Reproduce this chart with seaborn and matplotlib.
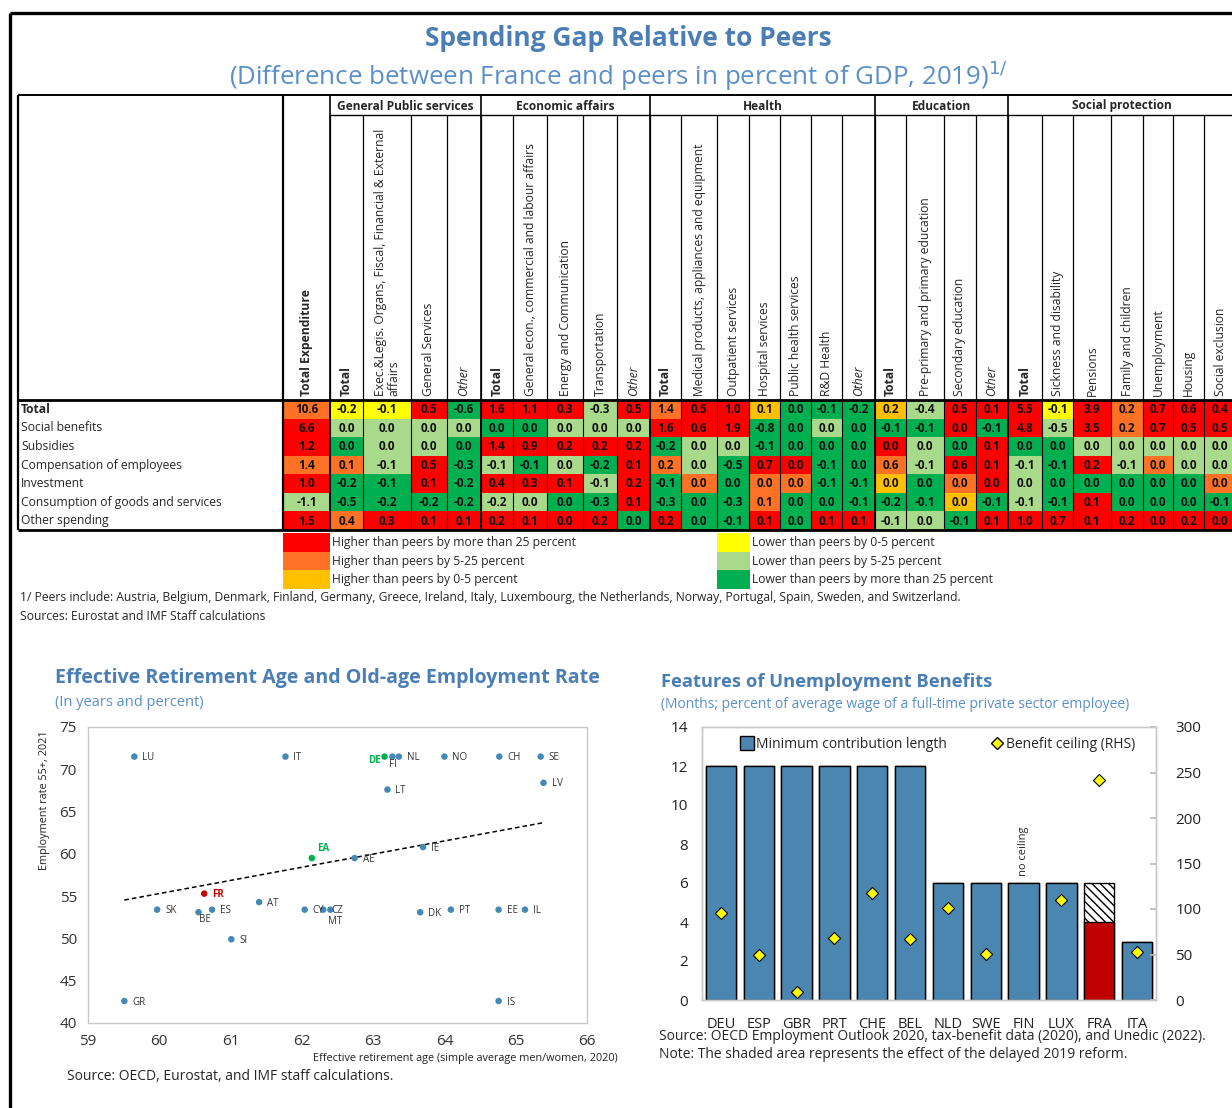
import matplotlib
matplotlib.use("Agg")
import matplotlib.pyplot as plt
import numpy as np
import pandas as pd
import seaborn as sns
from matplotlib.colors import ListedColormap
from matplotlib.lines import Line2D
from matplotlib.patches import Rectangle

# ---------------- data: spending gap table ----------------
row_labels = ["Total", "Social benefits", "Subsidies", "Compensation of employees",
              "Investment", "Consumption of goods and services", "Other spending"]
group_names = ["General Public services", "Economic affairs", "Health", "Education",
               "Social protection"]
group_sizes = [4, 5, 7, 4, 7]
col_labels = ["Total Expenditure",
              "Total", "Exec.&Legis. Organs, Fiscal, Financial & External\naffairs",
              "General Services", "Other",
              "Total", "General econ., commercial and labour affairs",
              "Energy and Communication", "Transportation", "Other",
              "Total", "Medical products, appliances and equipment", "Outpatient services",
              "Hospital services", "Public health services", "R&D Health", "Other",
              "Total", "Pre-primary and primary education", "Secondary education", "Other",
              "Total", "Sickness and disability", "Pensions", "Family and children",
              "Unemployment", "Housing", "Social exclusion"]

gap_total = [10.6, -0.2, -0.1, 0.5, -0.6, 1.6, 1.1, 0.3, -0.3, 0.5, 1.4, 0.5, 1.0, 0.1,
             0.0, -0.1, -0.2, 0.2, -0.4, 0.5, 0.1, 5.5, -0.1, 3.9, 0.2, 0.7, 0.6, 0.4]
gap_social = [6.6, 0.0, 0.0, 0.0, 0.0, 0.0, 0.0, 0.0, 0.0, 0.0, 1.6, 0.6, 1.9, -0.8,
              0.0, 0.0, 0.0, -0.1, -0.1, 0.0, -0.1, 4.8, -0.5, 3.5, 0.2, 0.7, 0.5, 0.5]
gap_subsidies = [1.2, 0.0, 0.0, 0.0, 0.0, 1.4, 0.9, 0.2, 0.2, 0.2, -0.2, 0.0, 0.0, -0.1,
                 0.0, 0.0, 0.0, 0.0, 0.0, 0.0, 0.1, 0.0, 0.0, 0.0, 0.0, 0.0, 0.0, 0.0]
gap_compens = [1.4, 0.1, -0.1, 0.5, -0.3, -0.1, -0.1, 0.0, -0.2, 0.1, 0.2, 0.0, -0.5, 0.7,
               0.0, -0.1, 0.0, 0.6, -0.1, 0.6, 0.1, -0.1, -0.1, 0.2, -0.1, 0.0, 0.0, 0.0]
gap_invest = [1.0, -0.2, -0.1, 0.1, -0.2, 0.4, 0.3, 0.1, -0.1, 0.2, -0.1, 0.0, 0.0, 0.0,
              0.0, -0.1, -0.1, 0.0, 0.0, 0.0, 0.0, 0.0, 0.0, 0.0, 0.0, 0.0, 0.0, 0.0]
gap_consum = [-1.1, -0.5, -0.2, -0.2, -0.2, -0.2, 0.0, 0.0, -0.3, 0.1, -0.3, 0.0, -0.3, 0.1,
              0.0, 0.0, -0.1, -0.2, -0.1, 0.0, -0.1, -0.1, -0.1, 0.1, 0.0, 0.0, 0.0, -0.1]
gap_other = [1.5, 0.4, 0.3, 0.1, 0.1, 0.2, 0.1, 0.0, 0.2, 0.0, 0.2, 0.0, -0.1, 0.1,
             0.0, 0.1, 0.1, -0.1, 0.0, -0.1, 0.1, 1.0, 0.7, 0.1, 0.2, 0.0, 0.2, 0.0]

# relative gap class per cell: R >25% higher, O 5-25% higher, A 0-5% higher,
# Y 0-5% lower, L 5-25% lower, G >25% lower
lvl_total = "OYYRGRRRLR" "ORRAGGG" "ALRR" "RYRORRR"
lvl_social = "RLLLLGGLLL" "RRRGGLG" "GGRG" "RLRORRR"
lvl_subsidies = "RGLLGRRRRR" "GLLGGGG" "RLGR" "GGLLLLL"
lvl_compens = "OOLRGLGLGR" "OLGRRGG" "OLRR" "LGRLOLL"
lvl_invest = "RGGRGRRRLR" "GOGOOGG" "AGOR" "LGGGGGO"
lvl_consum = "LGGGGLLGGR" "GGGOGGG" "GGAG" "LGRGGGG"
lvl_other = "RORRRRRRRG" "RGGRGRR" "LLGR" "RRRRRRR"

level_codes = ["R", "O", "A", "Y", "L", "G"]
level_names = ["Higher than peers by more than 25 percent", "Higher than peers by 5-25 percent",
               "Higher than peers by 0-5 percent", "Lower than peers by 0-5 percent",
               "Lower than peers by 5-25 percent", "Lower than peers by more than 25 percent"]

# ---------------- data: retirement scatter ----------------
sc_country = ["LU", "IT", "DE", "FI", "NL", "NO", "CH", "SE", "LV", "LT", "IE", "AE", "EA",
              "FR", "AT", "SK", "BE", "ES", "CY", "CZ", "MT", "DK", "PT", "EE", "IL", "SI",
              "GR", "IS"]
sc_age = [59.65, 61.77, 63.16, 63.27, 63.36, 64.0, 64.77, 65.35, 65.39, 63.2, 63.7, 62.74,
          62.14, 60.63, 61.4, 59.97, 60.55, 60.74, 62.04, 62.3, 62.4, 63.66, 64.09, 64.76,
          65.13, 61.01, 59.51, 64.76]
sc_emp = [71.5, 71.5, 71.5, 71.5, 71.5, 71.5, 71.5, 71.5, 68.4, 67.6, 60.8, 59.5, 59.5,
          55.3, 54.3, 53.4, 53.1, 53.4, 53.4, 53.4, 53.4, 53.1, 53.4, 53.4, 53.4, 49.9,
          42.6, 42.6]

# ---------------- data: unemployment benefits ----------------
ub_country = ["DEU", "ESP", "GBR", "PRT", "CHE", "BEL", "NLD", "SWE", "FIN", "LUX", "FRA", "ITA"]
ub_months = [12, 12, 12, 12, 12, 12, 6, 6, 6, 6, 4, 3]
ub_reform = [0, 0, 0, 0, 0, 0, 0, 0, 0, 0, 2, 0]
ub_ceiling = [96, 49, 9, 68, 118, 67, 101, 51, np.nan, 110, 242, 53]

# ---------------- styling ----------------
W, H = 1232, 1108
level_colors = ["#FF0000", "#FF7124", "#FFC000", "#FFFF00", "#A9D98B", "#00B050"]
title_blue = "#4A7EB4"
sub_blue = "#5B8FC8"
pt_blue = "#4389B8"
col_w = [47, 33, 48, 36, 34, 32, 34, 36, 34, 33, 31, 36, 32, 31, 31, 31, 33,
         31, 38, 32, 32, 34, 31, 38, 32, 30, 31, 32]
tab_x0, tab_top, tab_bot = 283, 400, 530

sns.set_theme(style="white")
plt.rcParams["font.family"] = ["Open Sans", "DejaVu Sans"]

fig = plt.figure(figsize=(W / 100, H / 100), dpi=100)


def rect(x0, y0, x1, y1):
    return [x0 / W, 1 - y1 / H, (x1 - x0) / W, (y1 - y0) / H]


# ---- heatmap cells ----
gap_rows = [gap_total, gap_social, gap_subsidies, gap_compens, gap_invest, gap_consum, gap_other]
lvl_rows = [lvl_total, lvl_social, lvl_subsidies, lvl_compens, lvl_invest, lvl_consum, lvl_other]
values = np.array(gap_rows)
codes = np.array([[level_codes.index(c) for c in r] for r in lvl_rows])
edges = np.concatenate([[0], np.cumsum(col_w)])

ax_h = fig.add_axes(rect(tab_x0, tab_top, tab_x0 + edges[-1], tab_bot))
sns.heatmap(np.repeat(codes, col_w, axis=1), cmap=ListedColormap(level_colors),
            vmin=-0.5, vmax=5.5, cbar=False, xticklabels=False, yticklabels=False, ax=ax_h)
for i in range(values.shape[0]):
    for j in range(values.shape[1]):
        ax_h.text((edges[j] + edges[j + 1]) / 2, i + 0.52, f"{values[i, j]:.1f}",
                  ha="center", va="center", fontsize=8.5, fontweight="bold", color="#111111")
grp_idx = np.cumsum([1] + group_sizes)
ax_h.vlines(edges[1:-1], 0, len(row_labels), color="black", lw=0.8)
ax_h.vlines(edges[grp_idx[:-1]], 0, len(row_labels), color="black", lw=1.4)

# ---- overlay in pixel coordinates ----
ov = fig.add_axes([0, 0, 1, 1], zorder=5)
ov.set_xlim(0, W)
ov.set_ylim(H, 0)
ov.axis("off")

# page frame
ov.plot([10, W], [13, 13], color="black", lw=2.4, solid_capstyle="butt")
ov.plot([10, 10], [13, H], color="black", lw=2.4, solid_capstyle="butt")

ov.text(628, 38, "Spending Gap Relative to Peers", ha="center", va="center",
        fontsize=19, fontweight="bold", color=title_blue)
ov.text(618, 76, "(Difference between France and peers in percent of GDP, 2019)$^{1/}$",
        ha="center", va="center", fontsize=18.6, color=sub_blue)

# table grid
col_x = tab_x0 + edges
ov.hlines([95], 18, W, color="black", lw=1.4)
ov.hlines([tab_top, tab_bot], 18, W, color="black", lw=2.0)
ov.hlines([115], col_x[1], W, color="black", lw=1.0)
ov.vlines([18, tab_x0], 95, tab_bot, color="black", lw=1.6)
ov.vlines(col_x[grp_idx[:-1]], 95, tab_top, color="black", lw=1.2)
ov.vlines(col_x[1:-1], 115, tab_top, color="black", lw=0.9)

for k, name in enumerate(group_names):
    xc = (col_x[grp_idx[k]] + col_x[grp_idx[k + 1]]) / 2
    ov.text(xc, 106, name, ha="center", va="center", fontsize=8.6, fontweight="bold")

for j, lab in enumerate(col_labels):
    xc = (col_x[j] + col_x[j + 1]) / 2
    weight = "bold" if lab.startswith("Total") else "normal"
    style = "italic" if lab == "Other" else "normal"
    ov.text(xc, 396, lab, rotation=90, ha="center", va="bottom", multialignment="left",
            fontsize=8.7, fontweight=weight, fontstyle=style, linespacing=1.0)

row_h = (tab_bot - tab_top) / len(row_labels)
for i, lab in enumerate(row_labels):
    ov.text(21, tab_top + (i + 0.5) * row_h, lab, ha="left", va="center", fontsize=8.7,
            fontweight="bold" if i == 0 else "normal")

# legend of the table
for k, (code, name) in enumerate(zip(level_codes, level_names)):
    col, r = (0, k) if k < 3 else (1, k - 3)
    x0, x1 = (283, 330) if col == 0 else (717, 750)
    y0 = 533 + r * 18.5
    ov.add_patch(Rectangle((x0, y0), x1 - x0, 18.5, color=level_colors[k], lw=0))
    ov.text(x1 + 2, y0 + 9.5, name, ha="left", va="center", fontsize=8.7)

ov.text(20, 598, "1/ Peers include: Austria, Belgium, Denmark, Finland, Germany, Greece, Ireland, "
        "Italy, Luxembourg, the Netherlands, Norway, Portugal, Spain, Sweden, and Switzerland.",
        ha="left", va="center", fontsize=8.7)
ov.text(20, 617, "Sources: Eurostat and IMF Staff calculations", ha="left", va="center",
        fontsize=8.7)

# ---- scatter: retirement age vs employment ----
ov.text(55, 678, "Effective Retirement Age and Old-age Employment Rate", ha="left",
        va="center", fontsize=14.1, fontweight="bold", color=title_blue)
ov.text(55, 702, "(In years and percent)", ha="left", va="center", fontsize=10.5,
        color=sub_blue)

sct = pd.DataFrame({"country": sc_country, "age": sc_age, "emp": sc_emp})
pt_colors = {c: pt_blue for c in sc_country}
pt_colors.update({"DE": "#00B050", "EA": "#00B050", "FR": "#C00000"})

ax_s = fig.add_axes(rect(88, 727, 587, 1023))
sns.regplot(data=sct, x="age", y="emp", scatter=False, ci=None, truncate=True,
            line_kws=dict(color="black", lw=1.1, ls=(0, (3, 2))), ax=ax_s)
sns.scatterplot(data=sct, x="age", y="emp", hue="country", palette=pt_colors, legend=False,
                s=22, edgecolor="none", ax=ax_s, zorder=3)

lab_off = {"DE": (-4, -4, "right"), "FI": (1, -8, "center"), "BE": (6, -7, "center"),
           "MT": (5, -12, "center"), "EA": (11, 10, "center")}
for c, x, y in zip(sc_country, sc_age, sc_emp):
    dx, dy, ha = lab_off.get(c, (8, -1, "left"))
    special = c in ("DE", "EA", "FR")
    ax_s.annotate(c, (x, y), xytext=(dx, dy), textcoords="offset pixels", ha=ha, va="center",
                  fontsize=7, color=pt_colors[c] if special else "#333333",
                  fontweight="bold" if special else "normal")

ax_s.set(xlim=(59, 66), ylim=(40, 75), xlabel="", ylabel="")
ax_s.set_xticks(range(59, 67))
ax_s.set_yticks(range(40, 76, 5))
ax_s.tick_params(length=0, labelsize=11, colors="#333333", pad=8)
for sp in ax_s.spines.values():
    sp.set_color("#C8C8C8")
    sp.set_linewidth(1)

ov.text(45, 800, "Employment rate 55+, 2021", rotation=90, ha="center", va="center",
        fontsize=7.8, color="#222222")
ov.text(618, 1058, "Effective retirement age (simple average men/women, 2020)", ha="right",
        va="center", fontsize=7.8, color="#222222")
ov.text(67, 1077, "Source: OECD, Eurostat, and IMF staff calculations.", ha="left",
        va="center", fontsize=10)

# ---- bars: unemployment benefits ----
ov.text(661, 682, "Features of Unemployment Benefits", ha="left", va="center",
        fontsize=13.2, fontweight="bold", color=title_blue)
ov.text(661, 705, "(Months; percent of average wage of a full-time private sector employee)",
        ha="left", va="center", fontsize=10, color=sub_blue)

ub = pd.DataFrame({"country": ub_country, "months": ub_months,
                   "total": np.array(ub_months) + np.array(ub_reform), "ceiling": ub_ceiling})
bar_colors = {c: "#4B86B0" for c in ub_country}
bar_colors["FRA"] = "#C00000"

ax_b = fig.add_axes(rect(702, 727, 1156, 1000))
sns.barplot(data=ub, x="country", y="total", color="white", edgecolor="black", linewidth=1,
            hatch="\\\\\\\\", saturation=1, width=0.8, ax=ax_b)
sns.barplot(data=ub, x="country", y="months", hue="country", palette=bar_colors,
            edgecolor="black", linewidth=1, saturation=1, width=0.8, legend=False, ax=ax_b)
ax_b.set(ylim=(0, 14), xlim=(-0.5, len(ub_country) - 0.5), xlabel="", ylabel="")
ax_b.set_yticks(range(0, 15, 2))
ax_b.tick_params(axis="y", length=0, labelsize=11, pad=10, colors="#222222")
ax_b.tick_params(axis="x", length=0, labelsize=10.5, pad=12, colors="#222222")
ax_b.text(8, 6.35, "no ceiling", rotation=90, ha="center", va="bottom", fontsize=8)

ax_r = ax_b.twinx()
sns.scatterplot(x=np.arange(len(ub_country)), y=ub["ceiling"], marker="D", s=38,
                color="#FFFF00", edgecolor="black", linewidth=0.8, ax=ax_r, zorder=5)
ax_r.set(ylim=(0, 300), ylabel="")
ax_r.set_yticks(range(0, 301, 50))
ax_r.tick_params(axis="y", direction="in", length=4, color="#BBBBBB", labelsize=11, pad=14,
                 colors="#222222")
for a in (ax_b, ax_r):
    for sp in a.spines.values():
        sp.set_color("#C8C8C8")
        sp.set_linewidth(1)

handles = [Line2D([], [], marker="s", ls="none", markersize=10, markerfacecolor="#4B86B0",
                  markeredgecolor="black"),
           Line2D([], [], marker="D", ls="none", markersize=6, markerfacecolor="#FFFF00",
                  markeredgecolor="black")]
ax_r.legend(handles, ["Minimum contribution length", "Benefit ceiling (RHS)"], loc="upper center",
            bbox_to_anchor=(0.52, 1.01), ncol=2, frameon=False, fontsize=10,
            handlelength=0.8, handletextpad=0.25, columnspacing=3.2)

ov.text(659, 1037, "Source: OECD Employment Outlook 2020, tax-benefit data (2020), and Unedic (2022).",
        ha="left", va="center", fontsize=10)
ov.text(659, 1055, "Note: The shaded area represents the effect of the delayed 2019 reform.",
        ha="left", va="center", fontsize=10)

fig.savefig("out.png", dpi=100)
